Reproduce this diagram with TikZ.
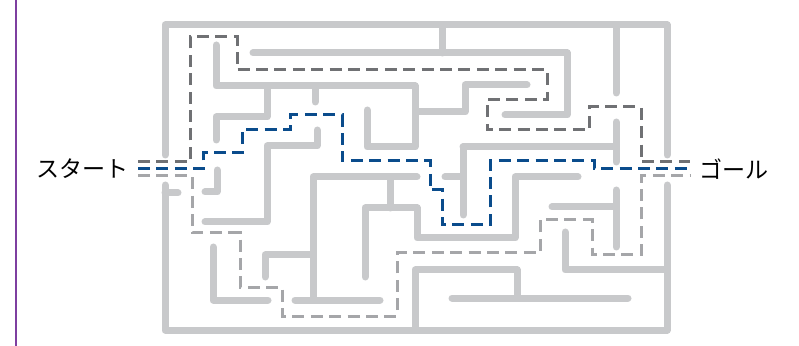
\documentclass[tikz,border=0pt]{standalone}
\usepackage{fontspec}
\newfontfamily\jpfont{Noto Sans CJK JP}
\definecolor{wallgray}{HTML}{C8C9CB}
\definecolor{routedark}{HTML}{707174}
\definecolor{routelight}{HTML}{A5A6A9}
\definecolor{routeblue}{HTML}{0A4C8C}
\definecolor{edgepurple}{HTML}{7E3FA0}
\tikzset{
  wall/.style={draw=wallgray, line width=1.75mm, line cap=round, line join=round},
  route/.style={line width=0.75mm, dash pattern=on 3mm off 1.6mm},
  darkroute/.style={route, draw=routedark},
  lightroute/.style={route, draw=routelight},
  blueroute/.style={route, draw=routeblue},
  mazelabel/.style={font=\jpfont\fontsize{16.4}{18}\selectfont, text=black, inner sep=0pt}
}
\begin{document}
\begin{tikzpicture}[x=0.25mm,y=-0.25mm]
  \useasboundingbox (0,0) rectangle (799,346);
  % side rule
  \draw[edgepurple, line width=0.6mm] (16,0) -- (16,346);

  % outer walls
  \draw[wall] (165,155) -- (165,25) -- (667,25) -- (667,155);
  \draw[wall] (165,185) -- (165,330) -- (667,330) -- (667,185);
  \draw[wall] (165,193) -- (178,193);

  % inner walls, top part
  \draw[wall] (442,25) -- (442,53);
  \draw[wall] (253,53) -- (567,53) -- (567,115) -- (505,115);
  \draw[wall] (216,45) -- (216,86) -- (415,86) -- (415,147) -- (367,147) -- (367,110);
  \draw[wall] (267,86) -- (267,117) -- (216,117) -- (216,140);
  \draw[wall] (315,86) -- (315,102);
  \draw[wall] (417,112) -- (465,112) -- (465,85) -- (527,85);
  \draw[wall] (616,25) -- (616,93);
  \draw[wall] (616,122) -- (616,162);
  \draw[wall] (463,147) -- (616,147);
  \draw[wall] (463,147) -- (463,215);
  \draw[wall] (445,177) -- (463,177);

  % inner walls, middle part
  \draw[wall] (317,130) -- (317,146) -- (267,146) -- (267,222) -- (205,222);
  \draw[wall] (217,170) -- (217,192) -- (205,192);
  \draw[wall] (313,300) -- (313,177) -- (417,177);
  \draw[wall] (390,177) -- (390,208);
  \draw[wall] (365,277) -- (365,208) -- (417,208) -- (417,238) -- (515,238) -- (515,177) -- (578,177);
  \draw[wall] (552,207) -- (616,207);
  \draw[wall] (616,190) -- (616,247);

  % inner walls, bottom part
  \draw[wall] (265,277) -- (265,255) -- (313,255);
  \draw[wall] (213,247) -- (213,300) -- (268,300);
  \draw[wall] (295,300) -- (380,300);
  \draw[wall] (565,232) -- (565,270) -- (667,270);
  \draw[wall] (415,330) -- (415,270) -- (517,270) -- (517,298);
  \draw[wall] (452,298) -- (628,298);

  % routes
  \draw[darkroute] (138,162) -- (190,162) -- (190,37) -- (237,37) -- (237,70) -- (547,70)
    -- (547,100) -- (487,100) -- (487,130) -- (589,130) -- (589,107) -- (641,107)
    -- (641,162) -- (690,162);
  \draw[blueroute] (138,169) -- (203,169) -- (203,153) -- (242,153) -- (242,130) -- (290,130)
    -- (290,115) -- (342,115) -- (342,161) -- (430,161) -- (430,190) -- (442,190)
    -- (442,225) -- (490,225) -- (490,161) -- (594,161) -- (594,169) -- (690,169);
  \draw[lightroute] (138,176) -- (192,176) -- (192,233) -- (240,233) -- (240,287) -- (282,287)
    -- (282,316) -- (397,316) -- (397,253) -- (540,253) -- (540,220) -- (592,220)
    -- (592,255) -- (641,255) -- (641,176) -- (690,176);

  % labels
  \node[mazelabel, anchor=east] (start) at (129,169) {スタート};
  \node[mazelabel, anchor=west] (goal) at (699,169) {ゴール};
\end{tikzpicture}
\end{document}
